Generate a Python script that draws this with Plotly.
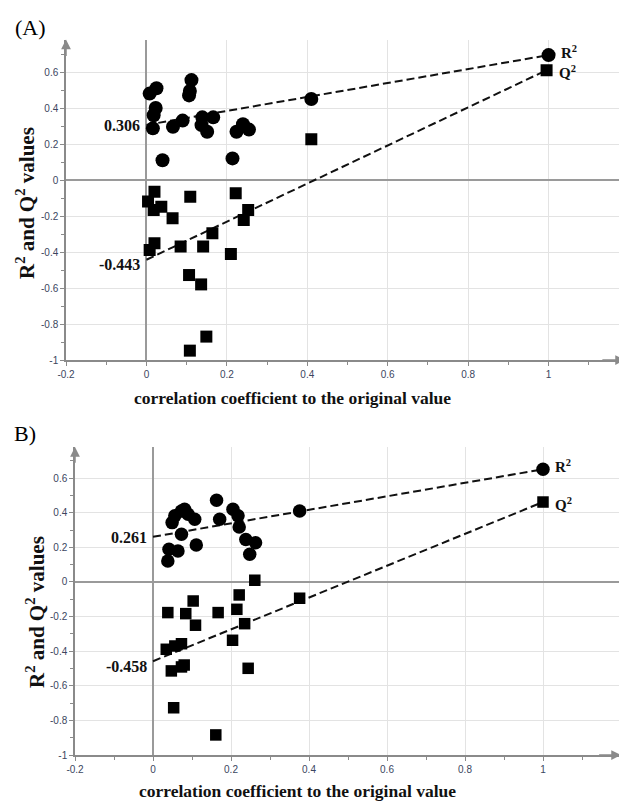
import plotly.graph_objects as go

# ---------------- Data ----------------
# Panel A
a_r2_x = [0.008, 0.025, 0.023, 0.018, 0.016, 0.040, 0.066, 0.090, 0.112, 0.108, 0.106,
          0.139, 0.137, 0.151, 0.166, 0.214, 0.224, 0.240, 0.255, 0.410, 1.0]
a_r2_y = [0.48, 0.51, 0.40, 0.36, 0.287, 0.11, 0.296, 0.33, 0.555, 0.495, 0.47,
          0.348, 0.305, 0.268, 0.348, 0.12, 0.268, 0.31, 0.28, 0.45, 0.694]
a_q2_x = [0.004, 0.020, 0.018, 0.037, 0.065, 0.109, 0.008, 0.020, 0.085, 0.106, 0.136,
          0.141, 0.164, 0.108, 0.149, 0.222, 0.210, 0.253, 0.242, 0.410, 0.995]
a_q2_y = [-0.12, -0.065, -0.167, -0.148, -0.213, -0.093, -0.389, -0.352, -0.37, -0.528, -0.58,
          -0.37, -0.296, -0.948, -0.87, -0.074, -0.411, -0.167, -0.222, 0.226, 0.61]
a_r2_intercept = 0.306
a_q2_intercept = -0.443

# Panel B
b_r2_x = [0.038, 0.041, 0.064, 0.049, 0.056, 0.073, 0.081, 0.090, 0.107, 0.073, 0.111,
          0.163, 0.171, 0.205, 0.218, 0.221, 0.238, 0.248, 0.263, 0.376, 1.0]
b_r2_y = [0.121, 0.189, 0.179, 0.343, 0.382, 0.41, 0.42, 0.391, 0.362, 0.276, 0.214,
          0.472, 0.362, 0.42, 0.382, 0.318, 0.246, 0.16, 0.227, 0.41, 0.651]
b_q2_x = [0.038, 0.103, 0.084, 0.109, 0.167, 0.221, 0.215, 0.235, 0.204, 0.244, 0.034,
          0.056, 0.073, 0.047, 0.073, 0.080, 0.053, 0.161, 0.376, 0.261, 1.0]
b_q2_y = [-0.177, -0.11, -0.183, -0.25, -0.177, -0.075, -0.158, -0.241, -0.337, -0.499, -0.389,
          -0.37, -0.357, -0.514, -0.491, -0.48, -0.727, -0.884, -0.094, 0.01, 0.462]
b_r2_intercept = 0.261
b_q2_intercept = -0.458

x_tickvals = [-0.2, 0, 0.2, 0.4, 0.6, 0.8, 1]
x_ticktext = ["-0.2", "0", "0.2", "0.4", "0.6", "0.8", "1"]
y_tickvals = [-1, -0.8, -0.6, -0.4, -0.2, 0, 0.2, 0.4, 0.6]
y_ticktext = ["-1", "-0.8", "-0.6", "-0.4", "-0.2", "0", "0.2", "0.4", "0.6"]

panel_labels = ["(A)", "B)"]
x_title = "correlation coefficient to the original value"
y_title = "R<sup>2</sup> and Q<sup>2</sup> values"

# page body has an 8px margin; figure is sized to fill the rest of the window
OFF = 8
W, H = 627 - OFF, 801 - OFF
AX_GRAY = "#8a8a8a"
ZERO_GRAY = "#9a9a9a"
GRID = "#e3e3e3"
TICK_COLOR = "#3b4660"
TXT = "#111111"
SERIF = "Liberation Serif, Times New Roman, serif"
SANS = "Liberation Sans, Arial, sans-serif"
DASH = "8px,4px"

fig = go.Figure()

panels = [
    dict(xa="x", ya="y", r2x=a_r2_x, r2y=a_r2_y, q2x=a_q2_x, q2y=a_q2_y,
         r2i=a_r2_intercept, q2i=a_q2_intercept, cs=14, ss=12,
         xdom=(66, 625), ydom=(39.6, 360), xrange=(-0.2, 1.19), yrange=(-1, 0.78),
         label_xy=(30, 27), xt_y=398, yt_x=25, yt_c=203, xt_c=292),
    dict(xa="x2", ya="y2", r2x=b_r2_x, r2y=b_r2_y, q2x=b_q2_x, q2y=b_q2_y,
         r2i=b_r2_intercept, q2i=b_q2_intercept, cs=13.5, ss=11.5,
         xdom=(75, 621), ydom=(447, 755), xrange=(-0.2, 1.2), yrange=(-1, 0.78),
         label_xy=(25, 433), xt_y=791, yt_x=35, yt_c=612, xt_c=297),
]

def px_x(v):
    return (v - OFF) / W

def px_y(v):
    return 1 - (v - OFF) / H

annotations = []
layout_axes = {}
for i, p in enumerate(panels):
    xa, ya = p["xa"], p["ya"]
    # regression lines (intercept -> original model point)
    fig.add_trace(go.Scatter(x=[0, p["r2x"][-1]], y=[p["r2i"], p["r2y"][-1]], mode="lines",
                             line=dict(color="#111111", width=2, dash=DASH),
                             xaxis=xa, yaxis=ya, showlegend=False, hoverinfo="skip"))
    fig.add_trace(go.Scatter(x=[0, p["q2x"][-1]], y=[p["q2i"], p["q2y"][-1]], mode="lines",
                             line=dict(color="#111111", width=2, dash=DASH),
                             xaxis=xa, yaxis=ya, showlegend=False, hoverinfo="skip"))
    fig.add_trace(go.Scatter(x=p["r2x"], y=p["r2y"], mode="markers",
                             marker=dict(symbol="circle", size=p["cs"], color="#000000"),
                             xaxis=xa, yaxis=ya, showlegend=False, name="R2"))
    fig.add_trace(go.Scatter(x=p["q2x"], y=p["q2y"], mode="markers",
                             marker=dict(symbol="square", size=p["ss"], color="#000000"),
                             xaxis=xa, yaxis=ya, showlegend=False, name="Q2"))

    xkey = "xaxis" if i == 0 else "xaxis2"
    ykey = "yaxis" if i == 0 else "yaxis2"
    common = dict(
        showgrid=True, gridcolor=GRID, gridwidth=1,
        zeroline=True, zerolinecolor=ZERO_GRAY, zerolinewidth=1.5,
        showline=True, linecolor=AX_GRAY, linewidth=1.5,
        ticks="outside", ticklen=4, tickcolor=AX_GRAY, automargin=False,
        minor=dict(dtick=0.1, tick0=0, ticks="outside", ticklen=3, tickcolor=AX_GRAY, showgrid=False),
        tickfont=dict(family=SANS, size=10, color=TICK_COLOR),
    )
    layout_axes[xkey] = dict(
        domain=[px_x(p["xdom"][0]), min(1.0, px_x(p["xdom"][1]))], range=list(p["xrange"]),
        anchor=ya, tickvals=x_tickvals, ticktext=x_ticktext, **common)
    layout_axes[ykey] = dict(
        domain=[px_y(p["ydom"][1]), px_y(p["ydom"][0])], range=list(p["yrange"]),
        anchor=xa, tickvals=y_tickvals, ticktext=y_ticktext, **common)

    # axis arrowheads
    xr, yr = p["xrange"], p["yrange"]
    annotations.append(dict(x=xr[1], y=yr[0], ax=xr[1] - 0.06, ay=yr[0], xref=xa, yref=ya,
                            axref=xa, ayref=ya, text="", showarrow=True, arrowhead=2,
                            arrowsize=1.3, arrowwidth=1.5, arrowcolor=AX_GRAY))
    annotations.append(dict(x=xr[0], y=yr[1], ax=xr[0], ay=yr[1] - 0.1, xref=xa, yref=ya,
                            axref=xa, ayref=ya, text="", showarrow=True, arrowhead=2,
                            arrowsize=1.3, arrowwidth=1.5, arrowcolor=AX_GRAY))

    # intercept labels
    annotations.append(dict(x=-0.01, y=p["r2i"], xref=xa, yref=ya, text=f"<b>{p['r2i']:.3f}</b>",
                            showarrow=False, xanchor="right", yanchor="middle",
                            font=dict(family=SERIF, size=16, color=TXT), yshift=-1))
    annotations.append(dict(x=-0.01, y=p["q2i"], xref=xa, yref=ya, text=f"<b>{p['q2i']:.3f}</b>",
                            showarrow=False, xanchor="right", yanchor="middle",
                            font=dict(family=SERIF, size=16, color=TXT), yshift=-5))
    # R2 / Q2 labels
    annotations.append(dict(x=p["r2x"][-1], y=p["r2y"][-1], xref=xa, yref=ya,
                            text="<b>R<sup>2</sup></b>", showarrow=False, xanchor="left",
                            yanchor="middle", xshift=10, yshift=3,
                            font=dict(family=SERIF, size=15, color=TXT)))
    annotations.append(dict(x=p["q2x"][-1], y=p["q2y"][-1], xref=xa, yref=ya,
                            text="<b>Q<sup>2</sup></b>", showarrow=False, xanchor="left",
                            yanchor="middle", xshift=10, yshift=-2,
                            font=dict(family=SERIF, size=15, color=TXT)))

    # axis titles
    annotations.append(dict(x=px_x(p["xt_c"]), y=px_y(p["xt_y"]), xref="paper", yref="paper",
                            text=f"<b>{x_title}</b>", showarrow=False, xanchor="center",
                            yanchor="middle", font=dict(family=SERIF, size=17.5, color=TXT)))
    annotations.append(dict(x=px_x(p["yt_x"]), y=px_y(p["yt_c"]), xref="paper", yref="paper",
                            text=f"<b>{y_title}</b>", showarrow=False, xanchor="center",
                            yanchor="middle", textangle=-90,
                            font=dict(family=SERIF, size=21, color=TXT)))
    # panel label
    annotations.append(dict(x=px_x(p["label_xy"][0]), y=px_y(p["label_xy"][1]), xref="paper",
                            yref="paper", text=panel_labels[i], showarrow=False,
                            xanchor="center", yanchor="middle",
                            font=dict(family=SERIF, size=22, color="#000000")))

fig.update_layout(
    template="none",
    width=W, height=H, margin=dict(l=0, r=0, t=0, b=0, autoexpand=False),
    paper_bgcolor="white", plot_bgcolor="white", showlegend=False,
    annotations=annotations, **layout_axes,
)

fig.write_html("out.html")
